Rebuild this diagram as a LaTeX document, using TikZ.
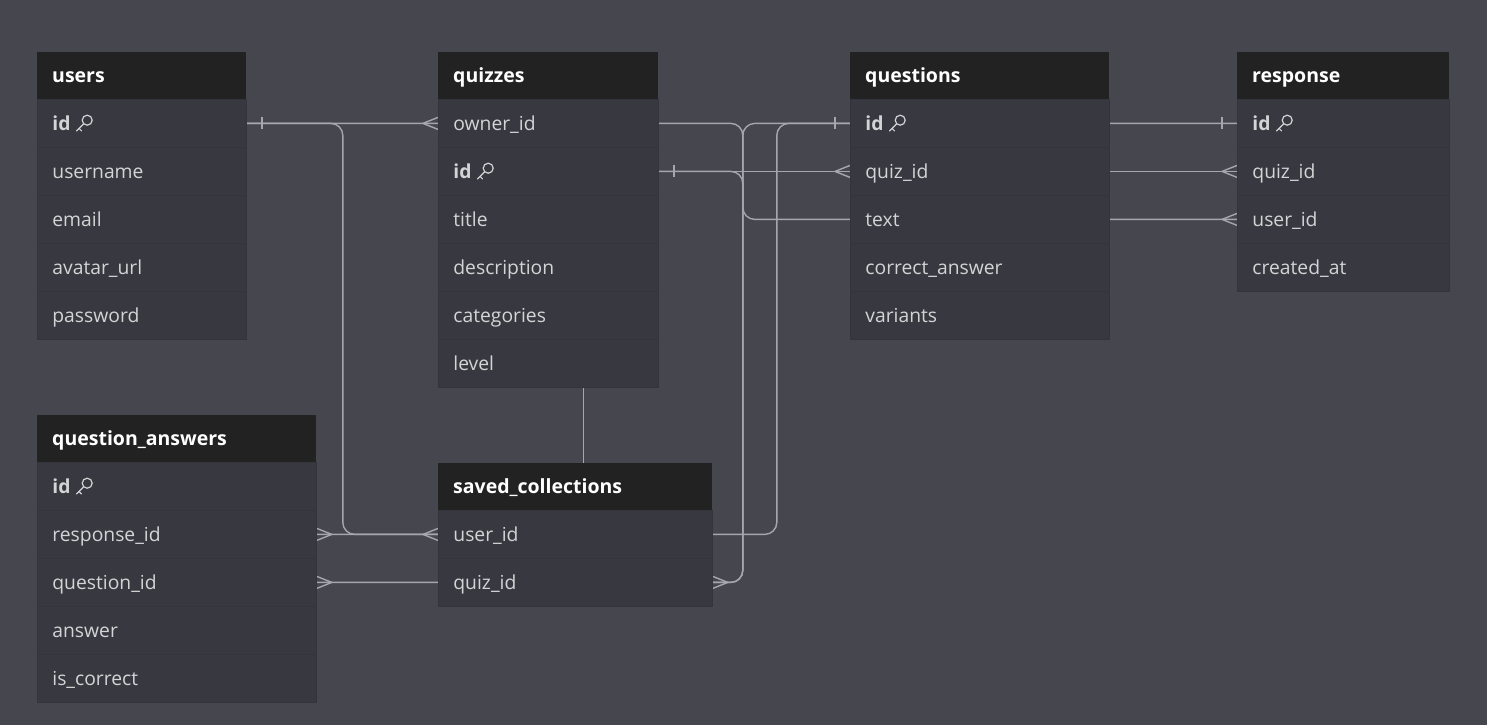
\documentclass[tikz,border=0pt]{standalone}
\usepackage{fontspec}
\setmainfont{Open Sans}
\usetikzlibrary{calc}

\definecolor{canvas}{HTML}{46464F}
\definecolor{rowfill}{HTML}{383840}
\definecolor{headfill}{HTML}{222222}
\definecolor{rowsep}{HTML}{34343C}
\definecolor{fieldtext}{HTML}{D4D4D6}
\definecolor{link}{HTML}{A6A6AE}

\pgfdeclarelayer{bg}
\pgfsetlayers{bg,main}

\tikzset{
  tblhead/.style={fill=headfill, text=white, font=\fontsize{19.5}{21}\selectfont\bfseries,
    anchor=north west, minimum height=47pt, inner xsep=15pt, text height=16pt, text depth=2pt},
  tblrow/.style={fill=rowfill, draw=rowsep, line width=0.8pt, text=fieldtext,
    font=\fontsize{19.3}{21}\selectfont, anchor=north west, minimum height=48pt,
    inner xsep=15pt, text height=16pt, text depth=2pt},
  rel/.style={draw=link, line width=1.4pt, rounded corners=12pt},
  endmark/.style={draw=link, line width=1.4pt},
  pkey/.pic={\draw[fieldtext, line width=1.2pt, line cap=round] (3.2,-3.2) circle (5pt)
    (-0.3,0.3) -- (-7.5,7.5) (-5,5) -- (-2.5,7.5);}
}

\newcommand{\pk}{\textbf{id}}
\newcommand{\dbtable}[6]{%
  \pgfmathsetmacro\tw{#5-30}
  \node[tblhead, text width=\tw pt] (#1) at (#3,#4) {#2};
  \foreach \f [count=\i] in {#6} {
    \node[tblrow, text width=\tw pt] (#1-\i) at (#3,#4+47+48*\i-48) {\f};
  }
}
\newcommand{\crowW}[1]{\draw[endmark] ($(#1)+(-15,0)$) -- ++(15,-6) ($(#1)+(-15,0)$) -- ++(15,6);}
\newcommand{\crowE}[1]{\draw[endmark] ($(#1)+(15,0)$) -- ++(-15,-6) ($(#1)+(15,0)$) -- ++(-15,6);}
\newcommand{\barW}[1]{\draw[endmark] ($(#1)+(-15,-6)$) -- ++(0,12);}
\newcommand{\barE}[1]{\draw[endmark] ($(#1)+(15,-6)$) -- ++(0,12);}

\begin{document}
\begin{tikzpicture}[x=1pt, y=-1pt]
\useasboundingbox (0,0) rectangle (1487,725);

\dbtable{users}{users}{37}{52}{209}{\pk, username, email, avatar\_url, password}
\dbtable{quizzes}{quizzes}{438}{52}{220}{owner\_id, \pk, title, description, categories, level}
\dbtable{questions}{questions}{850}{52}{259}{\pk, quiz\_id, text, correct\_answer, variants}
\dbtable{response}{response}{1237}{52}{212}{\pk, quiz\_id, user\_id, created\_at}
\dbtable{qa}{question\_answers}{37}{415}{279}{\pk, response\_id, question\_id, answer, is\_correct}
\dbtable{sc}{saved\_collections}{438}{463}{274}{user\_id, quiz\_id}

\foreach \k in {users-1, quizzes-2, questions-1, response-1, qa-1}
  \pic at ($(\k.west)+(47,0)$) {pkey};

\begin{pgfonlayer}{bg}
\fill[canvas] (0,0) rectangle (1487,725);

\draw[rel] (users-1.east) -- (quizzes-1.west);
\draw[rel] (users-1.east) -- ++(96,0) |- (sc-1.west);
\draw[rel] (users-1.east) -- ++(496,0) |- (response-3.west);
\draw[rel] (quizzes-2.east) -- (questions-2.west);
\draw[rel] (quizzes-2.east) -- (response-2.west);
\draw[rel] (quizzes-2.east) -- ++(84,0) |- (sc-2.east);
\draw[rel] (qa-2.east) -- ++(460,0) |- (response-1.west);
\draw[rel] (qa-3.east) -- ++(426,0) |- (questions-1.west);
\draw[rel] ($(quizzes-6.south)+(35,0)$) coordinate (drop) -- (drop |- sc.north);

\barE{users-1.east}
\barE{quizzes-2.east}
\barW{questions-1.west}
\barW{response-1.west}
\crowW{quizzes-1.west}
\crowW{questions-2.west}
\crowW{response-2.west}
\crowW{response-3.west}
\crowW{sc-1.west}
\crowE{sc-2.east}
\crowE{qa-2.east}
\crowE{qa-3.east}
\end{pgfonlayer}
\end{tikzpicture}
\end{document}
